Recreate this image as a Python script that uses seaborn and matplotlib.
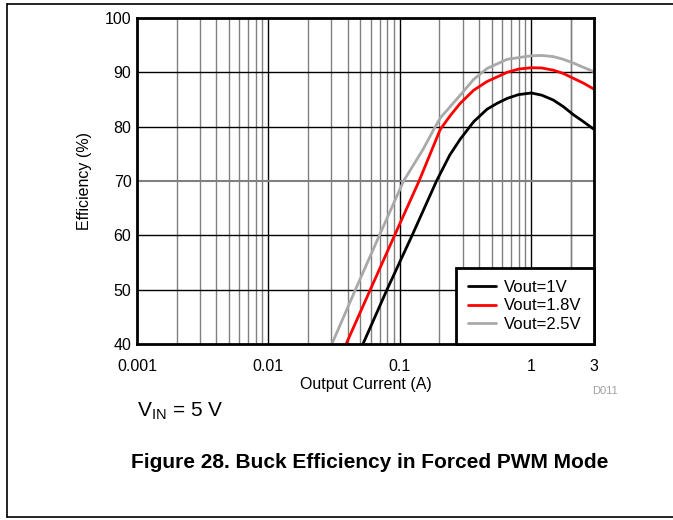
import matplotlib
matplotlib.use("Agg")
import matplotlib.pyplot as plt
from matplotlib.lines import Line2D
from matplotlib.ticker import FixedLocator, NullFormatter
import seaborn as sns
import pandas as pd

# Data (output current in A, efficiency in %)
cur_1v0 = [0.0524, 0.0798, 0.124, 0.19, 0.24, 0.288, 0.364, 0.46, 0.55, 0.655, 0.8, 1.0, 1.2, 1.47, 1.75, 2.09, 2.5, 3.0]
eff_1v0 = [40, 50, 60, 70, 74.8, 77.7, 80.9, 83.2, 84.3, 85.2, 85.9, 86.2, 85.8, 84.9, 83.7, 82.2, 80.9, 79.5]

cur_1v8 = [0.039, 0.0596, 0.0912, 0.14, 0.203, 0.243, 0.288, 0.364, 0.46, 0.655, 0.8, 1.0, 1.2, 1.47, 1.75, 2.09, 2.5, 3.0]
eff_1v8 = [40, 50, 60, 70, 79.5, 82.1, 84.3, 86.7, 88.3, 90.0, 90.6, 90.85, 90.8, 90.4, 89.8, 88.9, 88.0, 86.9]

cur_2v5 = [0.0304, 0.0459, 0.0699, 0.1067, 0.15, 0.186, 0.203, 0.288, 0.364, 0.46, 0.655, 1.0, 1.2, 1.47, 1.75, 2.09, 2.5, 3.0]
eff_2v5 = [40, 50, 60, 70, 75.8, 80, 81.6, 85.8, 88.7, 90.7, 92.4, 93.05, 93.1, 92.9, 92.4, 91.7, 90.9, 90.1]

series_names = ["Vout=1V", "Vout=1.8V", "Vout=2.5V"]
series_colors = ["black", "red", "#a9a9a9"]

x_ticks = [0.001, 0.01, 0.1, 1, 3]
x_tick_labels = ["0.001", "0.01", "0.1", "1", "3"]
y_ticks = [40, 50, 60, 70, 80, 90, 100]

df = pd.concat([
    pd.DataFrame({"current": cur_1v0, "eff": eff_1v0, "series": series_names[0]}),
    pd.DataFrame({"current": cur_1v8, "eff": eff_1v8, "series": series_names[1]}),
    pd.DataFrame({"current": cur_2v5, "eff": eff_2v5, "series": series_names[2]}),
])

sns.set_style("white")
plt.rcParams["font.family"] = ["Liberation Sans", "DejaVu Sans"]
plt.rcParams["text.color"] = "black"
plt.rcParams["axes.labelcolor"] = "black"

fig = plt.figure(figsize=(6.73, 5.2), dpi=100)
ax = fig.add_axes([137 / 673, 1 - 344 / 520, (594 - 137) / 673, (344 - 18) / 520])

ax.set_xscale("log")
ax.set_xlim(0.001, 3)
ax.set_ylim(40, 100)

# grid: minor lines grey, decades black
minor = [m * 10.0 ** e for e in range(-3, 1) for m in range(2, 10)] + [2.0]
for xv in minor:
    ax.axvline(xv, color="#808080", lw=1, zorder=1)
for xv in [0.01, 0.1, 1]:
    ax.axvline(xv, color="black", lw=1, zorder=1)
for yv in [50, 60, 80, 90]:
    ax.axhline(yv, color="black", lw=1, zorder=1)
ax.axhline(70, color="#808080", lw=1.5, zorder=1)

sns.lineplot(data=df, x="current", y="eff", hue="series", hue_order=series_names,
             palette=series_colors, linewidth=2, sort=False, estimator=None, ax=ax, zorder=3)

ax.xaxis.set_major_locator(FixedLocator(x_ticks))
ax.set_xticklabels(x_tick_labels)
ax.xaxis.set_minor_locator(FixedLocator([]))
ax.xaxis.set_minor_formatter(NullFormatter())
ax.set_yticks(y_ticks)
ax.tick_params(axis="both", length=0, labelsize=11.5, colors="black")
ax.tick_params(axis="x", pad=11)
ax.tick_params(axis="y", pad=4)

ax.set_xlabel("Output Current (A)", fontsize=11.5, labelpad=2)
ax.set_ylabel("Efficiency (%)", fontsize=11.5, labelpad=9)

for s in ax.spines.values():
    s.set_visible(True)
    s.set_color("black")
    s.set_linewidth(2)
    s.set_zorder(5)

leg = ax.legend(loc="lower right", borderaxespad=0, fontsize=12, frameon=True,
                fancybox=False, handlelength=1.7, handletextpad=0.5,
                labelspacing=0.22, borderpad=0.72)
leg.get_frame().set_edgecolor("black")
leg.get_frame().set_linewidth(2)
leg.get_frame().set_alpha(1)
leg.set_zorder(6)

fig.text(605 / 673, 1 - 391 / 520, "D011", color="#a0a0a0", fontsize=8, ha="center", va="center")
fig.text(137 / 673, 1 - 411 / 520, r"V$_{\mathregular{IN}}$ = 5 V", fontsize=15, ha="left", va="center")
fig.text(370 / 673, 1 - 463 / 520, "Figure 28. Buck Efficiency in Forced PWM Mode",
         fontsize=15, fontweight="bold", ha="center", va="center")

# page frame lines
fig.add_artist(Line2D([7 / 673, 1.01], [1 - 4 / 520, 1 - 4 / 520], color="black", lw=1.2, transform=fig.transFigure))
fig.add_artist(Line2D([7 / 673, 1.01], [1 - 517 / 520, 1 - 517 / 520], color="black", lw=1.2, transform=fig.transFigure))
fig.add_artist(Line2D([7 / 673, 7 / 673], [1 - 4 / 520, 1 - 517 / 520], color="black", lw=1.2, transform=fig.transFigure))

fig.savefig("out.png", dpi=100)
